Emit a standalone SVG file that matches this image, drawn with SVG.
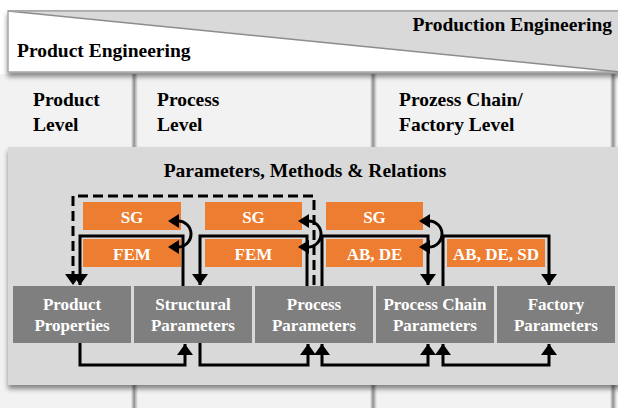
<svg xmlns="http://www.w3.org/2000/svg" width="618" height="408" viewBox="0 0 618 408">
<style>
.t{font-family:"Liberation Serif","Times New Roman",serif;font-weight:bold;}
.hd{font-size:19.5px;fill:#000;}
.bx{font-size:17px;fill:#fff;text-anchor:middle;}
.or{fill:#ED7D31;}
.gr{fill:#7f7f7f;}
.ln{fill:none;stroke:#000;stroke-width:3;}
.col{fill:#f2f2f2;}
</style>
<defs>
<filter id="sh" x="-5%" y="-10%" width="110%" height="130%">
<feDropShadow dx="0" dy="4" stdDeviation="2.5" flood-color="#000" flood-opacity="0.45"/>
</filter>
<linearGradient id="sep" x1="0" y1="0" x2="1" y2="0">
<stop offset="0" stop-color="#f2f2f2"/>
<stop offset="0.45" stop-color="#8c8c8c"/>
<stop offset="0.6" stop-color="#b0b0b0"/>
<stop offset="1" stop-color="#f2f2f2"/>
</linearGradient>
<marker id="ah" markerUnits="userSpaceOnUse" markerWidth="11" markerHeight="16" refX="11" refY="8" orient="auto-start-reverse">
<path d="M0,0 L11,8 L0,16 z" fill="#000"/>
</marker>
<marker id="aa" markerUnits="userSpaceOnUse" markerWidth="11" markerHeight="14" refX="1" refY="7" orient="auto-start-reverse">
<path d="M0,0 L11,7 L0,14 z" fill="#000"/>
</marker>
</defs>

<g id="columns">
<rect class="col" x="0" y="74" width="618" height="334"/>
<rect x="131" y="74" width="7" height="334" fill="url(#sep)"/>
<rect x="370" y="74" width="7" height="334" fill="url(#sep)"/>
<rect x="610" y="74" width="7" height="334" fill="url(#sep)"/>
<text class="t hd" x="33" y="106">Product</text>
<text class="t hd" x="33" y="131">Level</text>
<text class="t hd" x="157" y="106">Process</text>
<text class="t hd" x="157" y="131">Level</text>
<text class="t hd" x="399" y="106">Prozess Chain/</text>
<text class="t hd" x="399" y="131">Factory Level</text>
</g>

<g id="banner">
<rect x="8" y="11" width="620" height="61" fill="#fff" stroke="#a6a6a6" stroke-width="1.5" filter="url(#sh)"/>
<polygon points="8,11 620,11 620,72" fill="#d9d9d9"/>
<line x1="8" y1="11" x2="620" y2="72" stroke="#8c8c8c" stroke-width="1.5"/>
<line x1="8" y1="11" x2="620" y2="11" stroke="#a6a6a6" stroke-width="1.5"/>
<text class="t hd" x="612" y="31" text-anchor="end">Production Engineering</text>
<text class="t hd" x="17" y="57">Product Engineering</text>
</g>

<g id="panel">
<rect x="8" y="147" width="620" height="238" fill="#d9d9d9" filter="url(#sh)"/>
<text class="t hd" x="305" y="177" text-anchor="middle">Parameters, Methods &amp; Relations</text>
</g>

<g id="sg1"><rect class="or" x="83" y="202" width="98" height="28"/><text class="t bx" x="132" y="223">SG</text></g>
<g id="fem1"><rect class="or" x="83" y="239" width="98" height="28"/><text class="t bx" x="132" y="260">FEM</text></g>
<g id="sg2"><rect class="or" x="205" y="202" width="97" height="28"/><text class="t bx" x="253.5" y="223">SG</text></g>
<g id="fem2"><rect class="or" x="205" y="239" width="97" height="28"/><text class="t bx" x="253.5" y="260">FEM</text></g>
<g id="sg3"><rect class="or" x="326" y="202" width="97" height="28"/><text class="t bx" x="374.5" y="223">SG</text></g>
<g id="abde"><rect class="or" x="326" y="239" width="97" height="28"/><text class="t bx" x="374.5" y="260">AB, DE</text></g>
<g id="abdesd"><rect class="or" x="447" y="239" width="98" height="28"/><text class="t bx" x="496" y="260">AB, DE, SD</text></g>

<g id="product-properties"><rect class="gr" x="13" y="286" width="118" height="57"/><text class="t bx" x="72" y="310">Product</text><text class="t bx" x="72" y="331">Properties</text></g>
<g id="structural-parameters"><rect class="gr" x="134" y="286" width="118" height="57"/><text class="t bx" x="193" y="310">Structural</text><text class="t bx" x="193" y="331">Parameters</text></g>
<g id="process-parameters"><rect class="gr" x="255" y="286" width="118" height="57"/><text class="t bx" x="314" y="310">Process</text><text class="t bx" x="314" y="331">Parameters</text></g>
<g id="process-chain-parameters"><rect class="gr" x="376" y="286" width="118" height="57"/><text class="t bx" x="435" y="310">Process Chain</text><text class="t bx" x="435" y="331">Parameters</text></g>
<g id="factory-parameters"><rect class="gr" x="497" y="286" width="118" height="57"/><text class="t bx" x="556" y="310">Factory</text><text class="t bx" x="556" y="331">Parameters</text></g>

<g id="connectors">
<path class="ln" d="M314,285 V196 H73 V285" stroke-dasharray="10,5" marker-end="url(#ah)"/>
<path class="ln" d="M183,286 V236 H80 V285" marker-end="url(#ah)"/>
<path class="ln" d="M307,286 V236 H200 V285" marker-end="url(#ah)"/>
<path class="ln" d="M322,286 V236 H428 V285" marker-end="url(#ah)"/>
<path class="ln" d="M443,286 V236 H549 V285" marker-end="url(#ah)"/>
<path class="ln" d="M80,343 V365 H185 V344" marker-end="url(#ah)"/>
<path class="ln" d="M200,343 V365 H308 V344" marker-end="url(#ah)"/>
<path class="ln" d="M322,344 V365 H428 V344" marker-start="url(#ah)" marker-end="url(#ah)"/>
<path class="ln" d="M443,344 V365 H549 V344" marker-start="url(#ah)" marker-end="url(#ah)"/>
<path class="ln" d="M178,221 A13,13 0 1 1 178,247" marker-start="url(#aa)" marker-end="url(#aa)"/>
<path class="ln" d="M308,221 A13,13 0 1 1 308,247" marker-start="url(#aa)" marker-end="url(#aa)"/>
<path class="ln" d="M429,221 A13,13 0 1 1 429,247" marker-start="url(#aa)" marker-end="url(#aa)"/>
</g>
</svg>
